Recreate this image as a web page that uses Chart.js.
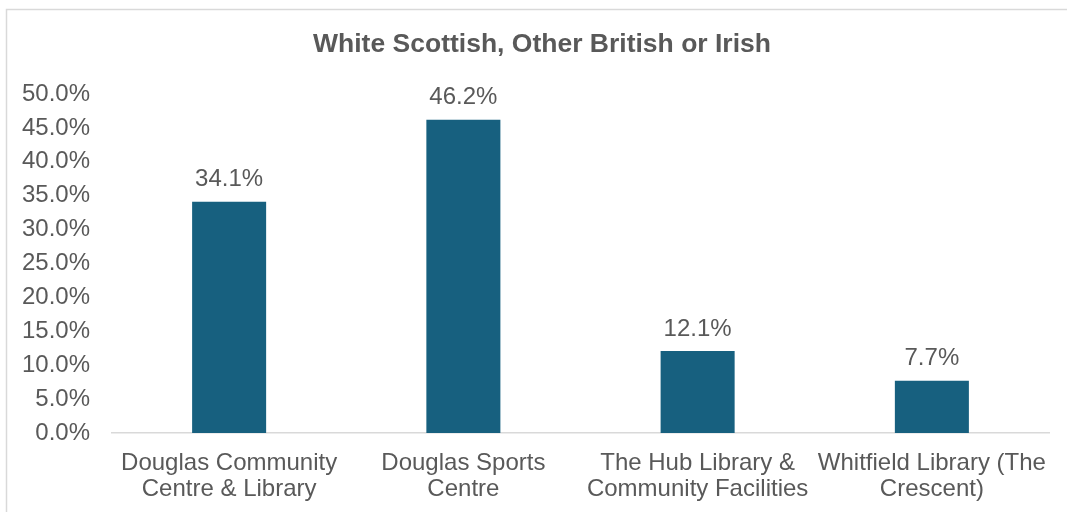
<!DOCTYPE html>
<html>
<head>
<meta charset="utf-8">
<script src="https://cdn.jsdelivr.net/npm/chart.js@4"></script>
<style>
html,body{margin:0;padding:0;background:#fff;}
#wrap{position:relative;width:1067px;height:512px;}
</style>
</head>
<body>
<div id="wrap"><canvas id="c" width="1067" height="512"></canvas></div>
<script>
const titleText = "White Scottish, Other British or Irish";
const categories = [
  ["Douglas Community", "Centre & Library"],
  ["Douglas Sports", "Centre"],
  ["The Hub Library &", "Community Facilities"],
  ["Whitfield Library (The", "Crescent)"]
];
const values = [34.1, 46.2, 12.1, 7.7];
const yMin = 0, yMax = 50, yStep = 5;

const textColor = "#595959";
const barColor = "#17607f";
const fontFamily = "'Liberation Sans', Arial, sans-serif";

const framePlugin = {
  id: "frame",
  beforeDraw(chart) {
    const ctx = chart.ctx;
    ctx.save();
    ctx.fillStyle = "#ffffff";
    ctx.fillRect(0, 0, chart.width, chart.height);
    ctx.strokeStyle = "#d9d9d9";
    ctx.lineWidth = 1.5;
    ctx.strokeRect(6.5, 9.5, 1200, 800);
    ctx.restore();
  },
  afterDraw(chart) {
    const ctx = chart.ctx;
    ctx.save();
    ctx.fillStyle = textColor;
    ctx.font = "bold 26.5px " + fontFamily;
    ctx.textAlign = "center";
    ctx.textBaseline = "middle";
    ctx.fillText(titleText, 542, 45);
    ctx.restore();
  }
};

const labelPlugin = {
  id: "valueLabels",
  afterDatasetsDraw(chart) {
    const ctx = chart.ctx;
    const meta = chart.getDatasetMeta(0);
    ctx.save();
    ctx.fillStyle = textColor;
    ctx.font = "24px " + fontFamily;
    ctx.textAlign = "center";
    ctx.textBaseline = "bottom";
    meta.data.forEach((bar, i) => {
      const v = chart.data.datasets[0].data[i];
      ctx.fillText(v.toFixed(1) + "%", bar.x, bar.y - 10);
    });
    ctx.restore();
  }
};

new Chart(document.getElementById("c"), {
  type: "bar",
  data: {
    labels: categories,
    datasets: [{
      data: values,
      backgroundColor: barColor,
      borderWidth: 0,
      categoryPercentage: 1,
      barPercentage: 0.316
    }]
  },
  plugins: [framePlugin, labelPlugin],
  options: {
    responsive: false,
    animation: false,
    devicePixelRatio: 1,
    layout: { padding: { left: 0, right: 18, top: 94, bottom: 0 } },
    plugins: {
      legend: { display: false },
      tooltip: { enabled: false },
      title: { display: false }
    },
    scales: {
      x: {
        grid: { display: false, drawTicks: false },
        border: { display: true, color: "#d9d9d9", width: 1.5 },
        ticks: {
          color: textColor,
          font: { family: fontFamily, size: 24, lineHeight: 1.1 },
          padding: 17,
          maxRotation: 0,
          autoSkip: false
        },
        afterFit(scale) { scale.height = 79; }
      },
      y: {
        min: yMin,
        max: yMax,
        grid: { display: false, drawTicks: false },
        border: { display: false },
        ticks: {
          stepSize: yStep,
          color: textColor,
          font: { family: fontFamily, size: 24 },
          padding: 22,
          callback: (v) => v.toFixed(1) + "%"
        },
        afterFit(scale) { scale.width = 112; }
      }
    }
  }
});
</script>
</body>
</html>
